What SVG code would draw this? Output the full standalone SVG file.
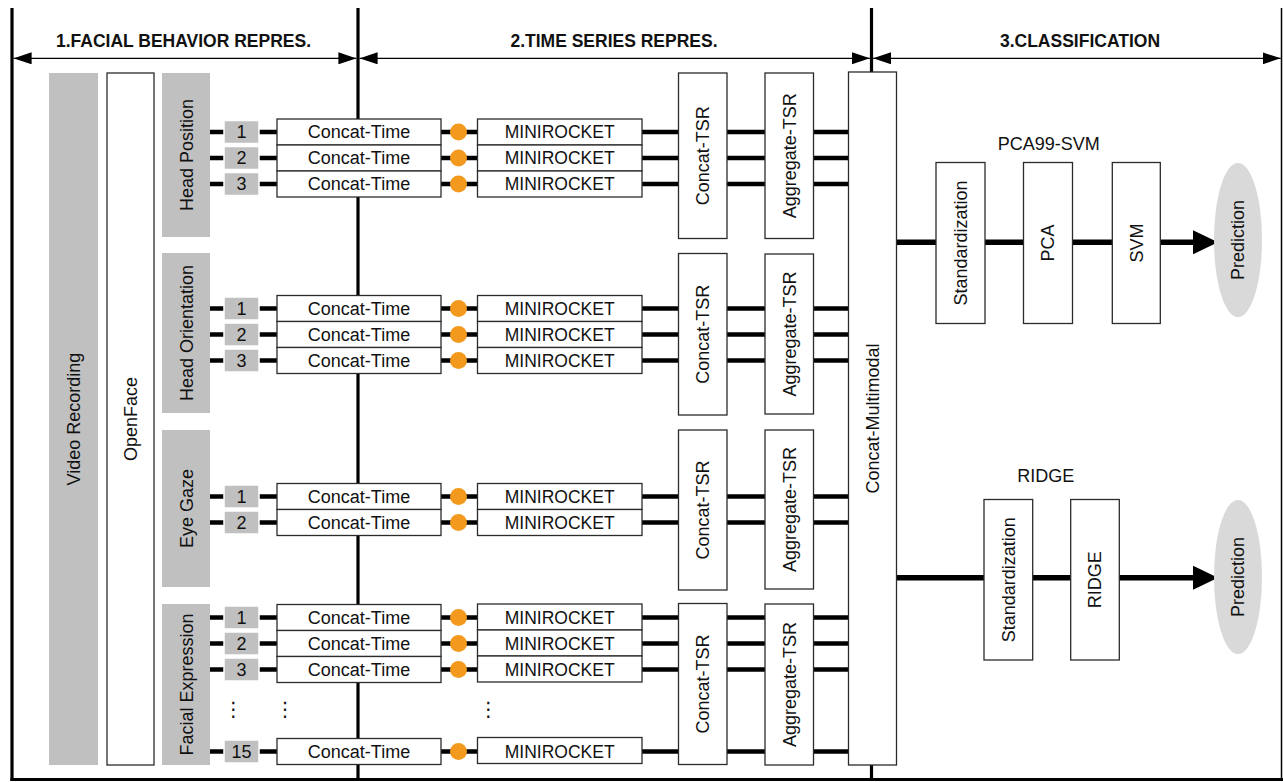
<svg xmlns="http://www.w3.org/2000/svg" width="1283" height="782" viewBox="0 0 1283 782">
<defs>
<style>
text{font-family:"Liberation Sans",Arial,Helvetica,sans-serif;font-size:18px;fill:#111;text-anchor:middle}
.hd{font-weight:bold;font-size:17.5px}
.mr{font-size:17.5px}
.box{fill:#fff;stroke:#2b2b2b;stroke-width:1.3}
.gray{fill:#c0c0c0}
.num{fill:#c0c0c0;stroke:#fff;stroke-width:1.5}
.wire{stroke:#000;stroke-width:4.5;fill:none}
.dim{stroke:#000;stroke-width:1.2;fill:none;marker-start:url(#dh);marker-end:url(#dh)}
.frame{stroke:#000;stroke-width:3.2;fill:none}
.dot{fill:#f39a1e}
.pred{fill:#d9d9d9}
.big{stroke:#000;stroke-width:5.5;fill:none;marker-end:url(#ah)}
.vd{font-family:"DejaVu Sans",sans-serif;font-size:20px}
</style>
<marker id="dh" markerUnits="userSpaceOnUse" markerWidth="18" markerHeight="12" refX="18" refY="6" orient="auto-start-reverse" viewBox="0 0 18 12"><path d="M0,0L18,6L0,12z" fill="#000"/></marker>
<marker id="ah" markerUnits="userSpaceOnUse" markerWidth="25" markerHeight="24" refX="0" refY="12" orient="auto" viewBox="0 0 25 24"><path d="M0,0L25,12L0,24z" fill="#000"/></marker>
</defs>
<rect width="1283" height="782" fill="#fff"/>

<g id="frame">
<line class="frame" x1="12" y1="8" x2="12" y2="781"/>
<line class="frame" x1="10.4" y1="779.5" x2="1283" y2="779.5"/>
<line x1="1281.5" y1="8" x2="1281.5" y2="781" stroke="#000" stroke-width="1.5"/>
<line class="frame" x1="358" y1="8" x2="358" y2="779"/>
<line class="frame" x1="871.5" y1="8" x2="871.5" y2="779"/>
</g>

<g id="sections">
<line class="dim" x1="13.6" y1="58.3" x2="356.4" y2="58.3"/>
<line class="dim" x1="359.6" y1="58.3" x2="869.9" y2="58.3"/>
<line class="dim" x1="873.1" y1="58.3" x2="1280.7" y2="58.3"/>
<text class="hd" x="183.5" y="47">1.FACIAL BEHAVIOR REPRES.</text>
<text class="hd" x="614" y="47">2.TIME SERIES REPRES.</text>
<text class="hd" x="1080" y="47">3.CLASSIFICATION</text>
</g>

<g id="connectors">
<line class="wire" x1="210" y1="132" x2="848.5" y2="132"/>
<line class="wire" x1="210" y1="158" x2="848.5" y2="158"/>
<line class="wire" x1="210" y1="184" x2="848.5" y2="184"/>
<line class="wire" x1="210" y1="308.5" x2="848.5" y2="308.5"/>
<line class="wire" x1="210" y1="334.5" x2="848.5" y2="334.5"/>
<line class="wire" x1="210" y1="360.5" x2="848.5" y2="360.5"/>
<line class="wire" x1="210" y1="496.5" x2="848.5" y2="496.5"/>
<line class="wire" x1="210" y1="522.5" x2="848.5" y2="522.5"/>
<line class="wire" x1="210" y1="617.5" x2="848.5" y2="617.5"/>
<line class="wire" x1="210" y1="643.5" x2="848.5" y2="643.5"/>
<line class="wire" x1="210" y1="669.5" x2="848.5" y2="669.5"/>
<line class="wire" x1="210" y1="751.5" x2="848.5" y2="751.5"/>
<line class="big" x1="897" y1="242.3" x2="1193" y2="242.3"/>
<line class="big" x1="897" y1="577.7" x2="1193" y2="577.7"/>
<g class="dot">
<circle cx="458.5" cy="132" r="8.5"/><circle cx="458.5" cy="158" r="8.5"/><circle cx="458.5" cy="184" r="8.5"/>
<circle cx="458.5" cy="308.5" r="8.5"/><circle cx="458.5" cy="334.5" r="8.5"/><circle cx="458.5" cy="360.5" r="8.5"/>
<circle cx="458.5" cy="496.5" r="8.5"/><circle cx="458.5" cy="522.5" r="8.5"/>
<circle cx="458.5" cy="617.5" r="8.5"/><circle cx="458.5" cy="643.5" r="8.5"/><circle cx="458.5" cy="669.5" r="8.5"/>
<circle cx="458.5" cy="751.5" r="8.5"/>
</g>
</g>

<g id="video-recording"><rect class="gray" x="49" y="73" width="49" height="692"/><text transform="translate(80,419) rotate(-90)">Video Recording</text></g>
<g id="openface"><rect class="box" x="107" y="73" width="47" height="692"/><text transform="translate(137,419) rotate(-90)">OpenFace</text></g>

<g id="head-position"><rect class="gray" x="162" y="73" width="48" height="164"/><text transform="translate(192.5,155) rotate(-90)">Head Position</text></g>
<g id="head-orientation"><rect class="gray" x="162" y="253" width="48" height="160"/><text transform="translate(192.5,333) rotate(-90)">Head Orientation</text></g>
<g id="eye-gaze"><rect class="gray" x="162" y="430" width="48" height="157"/><text transform="translate(192.5,508.5) rotate(-90)">Eye Gaze</text></g>
<g id="facial-expression"><rect class="gray" x="162" y="604" width="48" height="161"/><text transform="translate(192.5,684.5) rotate(-90)">Facial Expression</text></g>

<g id="hp-1"><rect class="num" x="224" y="120.5" width="35" height="23"/><text x="241.5" y="138.4">1</text></g>
<g id="hp-2"><rect class="num" x="224" y="146.5" width="35" height="23"/><text x="241.5" y="164.4">2</text></g>
<g id="hp-3"><rect class="num" x="224" y="172.5" width="35" height="23"/><text x="241.5" y="190.4">3</text></g>
<g id="ho-1"><rect class="num" x="224" y="297" width="35" height="23"/><text x="241.5" y="314.9">1</text></g>
<g id="ho-2"><rect class="num" x="224" y="323" width="35" height="23"/><text x="241.5" y="340.9">2</text></g>
<g id="ho-3"><rect class="num" x="224" y="349" width="35" height="23"/><text x="241.5" y="366.9">3</text></g>
<g id="eg-1"><rect class="num" x="224" y="485" width="35" height="23"/><text x="241.5" y="502.9">1</text></g>
<g id="eg-2"><rect class="num" x="224" y="511" width="35" height="23"/><text x="241.5" y="528.9">2</text></g>
<g id="fe-1"><rect class="num" x="224" y="606" width="35" height="23"/><text x="241.5" y="623.9">1</text></g>
<g id="fe-2"><rect class="num" x="224" y="632" width="35" height="23"/><text x="241.5" y="649.9">2</text></g>
<g id="fe-3"><rect class="num" x="224" y="658" width="35" height="23"/><text x="241.5" y="675.9">3</text></g>
<g id="fe-15"><rect class="num" x="224" y="740" width="35" height="23"/><text x="241.5" y="757.9">15</text></g>

<g id="ct-hp-1"><rect class="box" x="277" y="119" width="164" height="26"/><text x="359" y="138.4">Concat-Time</text></g>
<g id="ct-hp-2"><rect class="box" x="277" y="145" width="164" height="26"/><text x="359" y="164.4">Concat-Time</text></g>
<g id="ct-hp-3"><rect class="box" x="277" y="171" width="164" height="26"/><text x="359" y="190.4">Concat-Time</text></g>
<g id="ct-ho-1"><rect class="box" x="277" y="295.5" width="164" height="26"/><text x="359" y="314.9">Concat-Time</text></g>
<g id="ct-ho-2"><rect class="box" x="277" y="321.5" width="164" height="26"/><text x="359" y="340.9">Concat-Time</text></g>
<g id="ct-ho-3"><rect class="box" x="277" y="347.5" width="164" height="26"/><text x="359" y="366.9">Concat-Time</text></g>
<g id="ct-eg-1"><rect class="box" x="277" y="483.5" width="164" height="26"/><text x="359" y="502.9">Concat-Time</text></g>
<g id="ct-eg-2"><rect class="box" x="277" y="509.5" width="164" height="26"/><text x="359" y="528.9">Concat-Time</text></g>
<g id="ct-fe-1"><rect class="box" x="277" y="604.5" width="164" height="26"/><text x="359" y="623.9">Concat-Time</text></g>
<g id="ct-fe-2"><rect class="box" x="277" y="630.5" width="164" height="26"/><text x="359" y="649.9">Concat-Time</text></g>
<g id="ct-fe-3"><rect class="box" x="277" y="656.5" width="164" height="26"/><text x="359" y="675.9">Concat-Time</text></g>
<g id="ct-fe-15"><rect class="box" x="277" y="738.5" width="164" height="26"/><text x="359" y="757.9">Concat-Time</text></g>

<g id="mr-hp-1"><rect class="box" x="477.5" y="119" width="164.5" height="26"/><text class="mr" x="559.7" y="138.4">MINIROCKET</text></g>
<g id="mr-hp-2"><rect class="box" x="477.5" y="145" width="164.5" height="26"/><text class="mr" x="559.7" y="164.4">MINIROCKET</text></g>
<g id="mr-hp-3"><rect class="box" x="477.5" y="171" width="164.5" height="26"/><text class="mr" x="559.7" y="190.4">MINIROCKET</text></g>
<g id="mr-ho-1"><rect class="box" x="477.5" y="295.5" width="164.5" height="26"/><text class="mr" x="559.7" y="314.9">MINIROCKET</text></g>
<g id="mr-ho-2"><rect class="box" x="477.5" y="321.5" width="164.5" height="26"/><text class="mr" x="559.7" y="340.9">MINIROCKET</text></g>
<g id="mr-ho-3"><rect class="box" x="477.5" y="347.5" width="164.5" height="26"/><text class="mr" x="559.7" y="366.9">MINIROCKET</text></g>
<g id="mr-eg-1"><rect class="box" x="477.5" y="483.5" width="164.5" height="26"/><text class="mr" x="559.7" y="502.9">MINIROCKET</text></g>
<g id="mr-eg-2"><rect class="box" x="477.5" y="509.5" width="164.5" height="26"/><text class="mr" x="559.7" y="528.9">MINIROCKET</text></g>
<g id="mr-fe-1"><rect class="box" x="477.5" y="604" width="164.5" height="26"/><text class="mr" x="559.7" y="623.9">MINIROCKET</text></g>
<g id="mr-fe-2"><rect class="box" x="477.5" y="630" width="164.5" height="26"/><text class="mr" x="559.7" y="649.9">MINIROCKET</text></g>
<g id="mr-fe-3"><rect class="box" x="477.5" y="656" width="164.5" height="26"/><text class="mr" x="559.7" y="675.9">MINIROCKET</text></g>
<g id="mr-fe-15"><rect class="box" x="477.5" y="737.5" width="164.5" height="26"/><text class="mr" x="559.7" y="757.9">MINIROCKET</text></g>

<g id="ellipsis">
<text class="vd" x="233.3" y="716">⋮</text>
<text class="vd" x="285" y="716">⋮</text>
<text class="vd" x="488.3" y="716">⋮</text>
</g>

<g id="ctsr-hp"><rect class="box" x="678.5" y="73" width="48.5" height="165.5"/><text transform="translate(709,155.8) rotate(-90)">Concat-TSR</text></g>
<g id="ctsr-ho"><rect class="box" x="678.5" y="253.5" width="48.5" height="161.5"/><text transform="translate(709,334.3) rotate(-90)">Concat-TSR</text></g>
<g id="ctsr-eg"><rect class="box" x="678.5" y="430" width="48.5" height="160"/><text transform="translate(709,510) rotate(-90)">Concat-TSR</text></g>
<g id="ctsr-fe"><rect class="box" x="678.5" y="603.5" width="48.5" height="161"/><text transform="translate(709,684) rotate(-90)">Concat-TSR</text></g>

<g id="atsr-hp"><rect class="box" x="765" y="73" width="48.5" height="165.5"/><text transform="translate(795.7,155.8) rotate(-90)">Aggregate-TSR</text></g>
<g id="atsr-ho"><rect class="box" x="765" y="254" width="48.5" height="160"/><text transform="translate(795.7,334) rotate(-90)">Aggregate-TSR</text></g>
<g id="atsr-eg"><rect class="box" x="765" y="430" width="48.5" height="159"/><text transform="translate(795.7,509.5) rotate(-90)">Aggregate-TSR</text></g>
<g id="atsr-fe"><rect class="box" x="765" y="604" width="48.5" height="161"/><text transform="translate(795.7,684.5) rotate(-90)">Aggregate-TSR</text></g>

<g id="concat-multimodal"><rect class="box" x="848.5" y="72" width="48" height="693"/><text transform="translate(879,418.5) rotate(-90)">Concat-Multimodal</text></g>

<g id="pca99-svm-label"><text x="1048.7" y="150">PCA99-SVM</text></g>
<g id="std-1"><rect class="box" x="936" y="162.5" width="49" height="161"/><text transform="translate(967,243) rotate(-90)">Standardization</text></g>
<g id="pca"><rect class="box" x="1023.5" y="162.5" width="49" height="161"/><text transform="translate(1054.4,243) rotate(-90)">PCA</text></g>
<g id="svm"><rect class="box" x="1112.3" y="162.5" width="48" height="161"/><text transform="translate(1142.7,243) rotate(-90)">SVM</text></g>
<g id="prediction-1"><ellipse class="pred" cx="1238" cy="240" rx="24" ry="77"/><text transform="translate(1244.4,240) rotate(-90)">Prediction</text></g>

<g id="ridge-label"><text x="1045.7" y="481.5">RIDGE</text></g>
<g id="std-2"><rect class="box" x="984" y="499.5" width="48.7" height="160.5"/><text transform="translate(1014.7,579.7) rotate(-90)">Standardization</text></g>
<g id="ridge"><rect class="box" x="1070.7" y="499.5" width="48.6" height="160.5"/><text transform="translate(1101.4,579.7) rotate(-90)">RIDGE</text></g>
<g id="prediction-2"><ellipse class="pred" cx="1238" cy="577" rx="24" ry="77"/><text transform="translate(1244.4,577) rotate(-90)">Prediction</text></g>
</svg>
